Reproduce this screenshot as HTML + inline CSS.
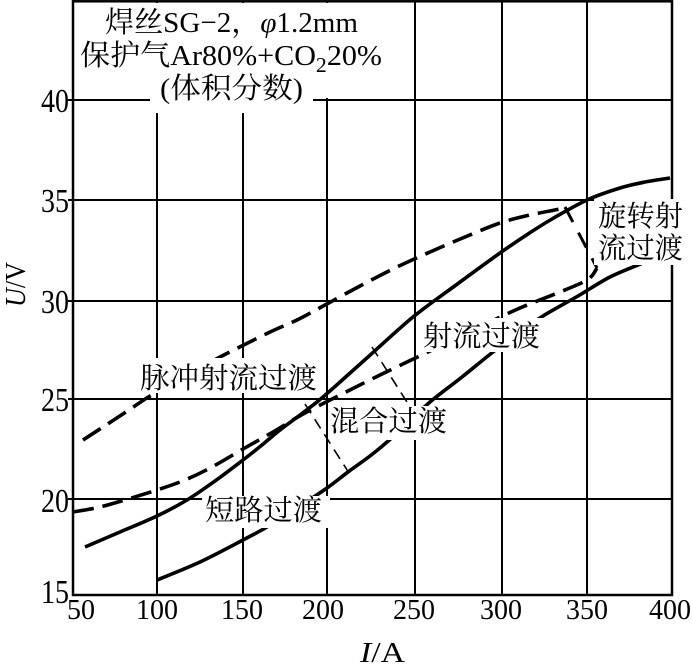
<!DOCTYPE html>
<html><head><meta charset="utf-8"><style>
html,body{margin:0;padding:0;background:#fff;}
svg{display:block;}
text{font-family:"Liberation Serif","Noto Serif CJK SC","Noto Sans CJK SC",serif;fill:#000;}
</style></head><body>
<svg id="chart" width="692" height="665" viewBox="0 0 692 665" xmlns="http://www.w3.org/2000/svg">
<rect x="0" y="0" width="692" height="665" fill="#fff"/>
<!-- grid -->
<g stroke="#000" stroke-width="2" fill="none">
<line x1="157" y1="1" x2="157" y2="595"/>
<line x1="243" y1="1" x2="243" y2="595"/>
<line x1="327" y1="1" x2="327" y2="595"/>
<line x1="415" y1="1" x2="415" y2="595"/>
<line x1="502" y1="1" x2="502" y2="595"/>
<line x1="587" y1="1" x2="587" y2="595"/>
<line x1="68" y1="100" x2="672" y2="100"/>
<line x1="68" y1="200" x2="672" y2="200"/>
<line x1="68" y1="301" x2="672" y2="301"/>
<line x1="68" y1="399" x2="672" y2="399"/>
<line x1="68" y1="499" x2="672" y2="499"/>
</g>
<rect x="73" y="1.3" width="599" height="593.7" fill="none" stroke="#000" stroke-width="2.5"/>
<!-- curves -->
<g fill="none" stroke="#000" stroke-width="3.6" stroke-linejoin="round">
<polyline class="s" points="85,547 120,532 157,516 187,500 215,481 243,460 262,445 280,430 300,415 323,397 368,357 413,317 456,285 500,253 528,234 552,219 587,200 620,188 645,182 670,178"/>
<polyline class="s" points="157,580 200,562 243,540 267,527 297,508 327,488 348,472 370,456 387,442 410,421 430,402 462,377 493,352 520,332 543,316 578,296 610,277 643,263"/>
<polyline class="s" stroke-dasharray="21 9" points="83,440 103,427 126,412 150,396 185,376 220,357 268,333 297,320 325,305 360,286 395,268 430,252 465,237 500,223 530,215 560,209"/>
<polyline class="s" stroke-dasharray="21 9" points="73,512 100,507 128,499 157,490 185,480 212,467 243,449 273,432 303,414 340,395 380,375 428,352 475,329 520,308 555,294 587,280 597,268"/>
</g>
<g fill="none" stroke="#000">
<line x1="305" y1="404" x2="349" y2="473" stroke-width="1.6" stroke-dasharray="11 7"/>
<line x1="372" y1="347" x2="412" y2="410" stroke-width="1.6" stroke-dasharray="11 7"/>
<line x1="565" y1="207" x2="597" y2="268" stroke-width="3" stroke-dasharray="17 12"/>
</g>
<!-- label backgrounds -->
<g fill="#fff">
<rect x="76" y="3" width="316" height="95"/>
<rect x="150" y="95" width="163" height="18"/>
<rect x="202" y="496" width="128" height="32"/>
<rect x="330" y="406" width="118" height="34"/>
<rect x="422" y="318" width="121" height="34"/>
<rect x="138" y="358" width="180" height="35"/>
<rect x="594" y="199" width="98" height="66"/>
</g>
<!-- title -->
<text x="105" y="32" font-size="29" textLength="253" lengthAdjust="spacingAndGlyphs">焊丝SG−2，<tspan font-style="italic">φ</tspan>1.2mm</text>
<text x="80" y="65" font-size="29" textLength="302" lengthAdjust="spacingAndGlyphs">保护气Ar80%+CO<tspan font-size="21" dy="7">2</tspan><tspan dy="-7">20%</tspan></text>
<text x="160" y="98" font-size="29" textLength="143" lengthAdjust="spacingAndGlyphs">(体积分数)</text>
<!-- region labels -->
<text x="205" y="520" font-size="29" textLength="117" lengthAdjust="spacingAndGlyphs">短路过渡</text>
<text x="330" y="431" font-size="29" textLength="117" lengthAdjust="spacingAndGlyphs">混合过渡</text>
<text x="423" y="346" font-size="29" textLength="117" lengthAdjust="spacingAndGlyphs">射流过渡</text>
<text x="140" y="388" font-size="29" textLength="177" lengthAdjust="spacingAndGlyphs">脉冲射流过渡</text>
<text x="598" y="226" font-size="29" textLength="85" lengthAdjust="spacingAndGlyphs">旋转射</text>
<text x="598" y="258" font-size="29" textLength="85" lengthAdjust="spacingAndGlyphs">流过渡</text>
<!-- x ticks -->
<g font-size="28" text-anchor="middle">
<text x="81" y="619">50</text>
<text x="157" y="619">100</text>
<text x="242" y="619">150</text>
<text x="323" y="619">200</text>
<text x="414" y="619">250</text>
<text x="501" y="619">300</text>
<text x="587" y="619">350</text>
<text x="670" y="619">400</text>
</g>
<!-- y ticks -->
<g font-size="28" text-anchor="end">
<text transform="translate(69,112) scale(1,1.2)">40</text>
<text transform="translate(69,212) scale(1,1.2)">35</text>
<text transform="translate(69,313) scale(1,1.2)">30</text>
<text transform="translate(69,411) scale(1,1.2)">25</text>
<text transform="translate(69,512) scale(1,1.2)">20</text>
<text transform="translate(69,603) scale(1,1.2)">15</text>
</g>
<!-- axis titles -->
<text x="360" y="662" font-size="29" textLength="45" lengthAdjust="spacingAndGlyphs"><tspan font-style="italic">I</tspan>/A</text>
<text transform="translate(25,285) rotate(-90)" x="-22" y="0" font-size="29" textLength="45" lengthAdjust="spacingAndGlyphs"><tspan font-style="italic">U</tspan>/V</text>
</svg>
<script>
(function(){
  var NS="http://www.w3.org/2000/svg";
  var pls=document.querySelectorAll('polyline.s');
  for(var k=0;k<pls.length;k++){
    var pl=pls[k];
    var nums=pl.getAttribute('points').trim().split(/[\s,]+/).map(Number);
    var p=[];
    for(var i=0;i<nums.length;i+=2)p.push([nums[i],nums[i+1]]);
    var d="M"+p[0][0]+","+p[0][1];
    for(var i=0;i<p.length-1;i++){
      var p0=p[i>0?i-1:i],p1=p[i],p2=p[i+1],p3=p[i+2<p.length?i+2:i+1];
      var c1x=p1[0]+(p2[0]-p0[0])/6,c1y=p1[1]+(p2[1]-p0[1])/6;
      var c2x=p2[0]-(p3[0]-p1[0])/6,c2y=p2[1]-(p3[1]-p1[1])/6;
      d+=" C"+c1x.toFixed(2)+","+c1y.toFixed(2)+" "+c2x.toFixed(2)+","+c2y.toFixed(2)+" "+p2[0]+","+p2[1];
    }
    var path=document.createElementNS(NS,'path');
    path.setAttribute('d',d);
    var da=pl.getAttribute('stroke-dasharray');
    if(da)path.setAttribute('stroke-dasharray',da);
    pl.parentNode.replaceChild(path,pl);
  }
})();
</script>
</body></html>
